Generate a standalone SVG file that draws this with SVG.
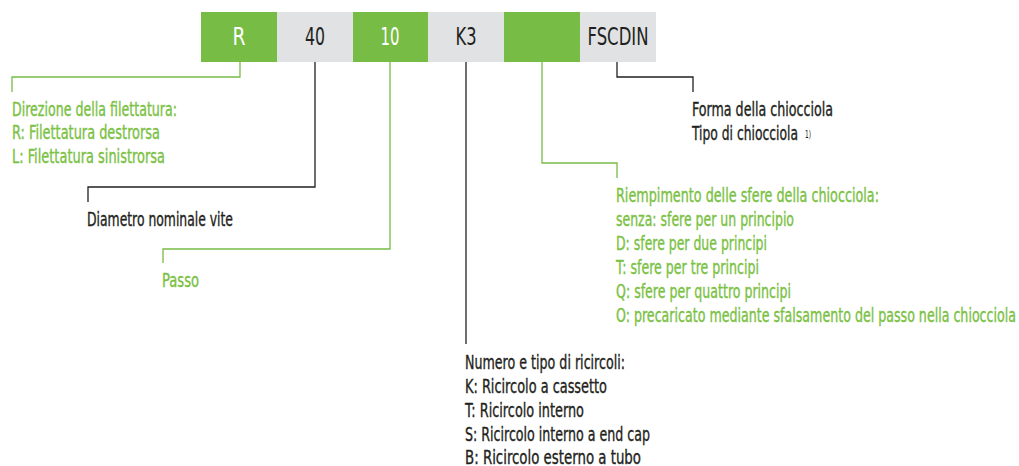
<svg xmlns="http://www.w3.org/2000/svg" width="1019" height="466" viewBox="0 0 1019 466">
<style>
text{font-family:"DejaVu Sans Condensed","Roboto","Liberation Sans",sans-serif;font-stretch:condensed}
.g{fill:#77bc44}.k{fill:#e1e2e3}
.bt{font-size:25px;text-anchor:middle}
.w{fill:#ffffff}.d{fill:#231f20}
.tg{fill:#7ac143;stroke:#7ac143;stroke-width:0.35;font-size:19px}.td{fill:#231f20;stroke:#231f20;stroke-width:0.35;font-size:19px}
.sup{fill:#231f20;font-size:10px}
.lg{fill:none;stroke:#77bc44;stroke-width:1.3}.ld{fill:none;stroke:#231f20;stroke-width:1.3}
</style>
<rect width="1019" height="466" fill="#ffffff"/>
<g id="box-R"><rect class="g" x="201" y="12" width="76" height="50"/><text class="bt w" x="239" y="45" textLength="13" lengthAdjust="spacingAndGlyphs">R</text></g>
<g id="box-40"><rect class="k" x="277" y="12" width="76" height="50"/><text class="bt d" x="315" y="45" textLength="20" lengthAdjust="spacingAndGlyphs">40</text></g>
<g id="box-10"><rect class="g" x="353" y="12" width="75" height="50"/><text class="bt w" x="390" y="45" textLength="19" lengthAdjust="spacingAndGlyphs">10</text></g>
<g id="box-K3"><rect class="k" x="428" y="12" width="76" height="50"/><text class="bt d" x="466" y="45" textLength="21" lengthAdjust="spacingAndGlyphs">K3</text></g>
<g id="box-empty"><rect class="g" x="504" y="12" width="76" height="50"/></g>
<g id="box-FSCDIN"><rect class="k" x="580" y="12" width="76" height="50"/><text class="bt d" x="618" y="45" textLength="61" lengthAdjust="spacingAndGlyphs">FSCDIN</text></g>
<g id="connectors">
<polyline class="lg" points="240,62 240,77 12,77 12,92"/>
<polyline class="ld" points="315,62 315,187 88,187 88,202"/>
<polyline class="lg" points="390,62 390,249 163,249 163,263"/>
<polyline class="ld" points="466,62 466,344"/>
<polyline class="lg" points="542,62 542,163 617,163 617,178"/>
<polyline class="ld" points="617,62 617,77 693,77 693,92"/>
</g>
<g id="label-direzione">
<text class="tg" x="12" y="116" textLength="165" lengthAdjust="spacingAndGlyphs">Direzione della filettatura:</text>
<text class="tg" x="12" y="139" textLength="148" lengthAdjust="spacingAndGlyphs">R: Filettatura destrorsa</text>
<text class="tg" x="12" y="163" textLength="153" lengthAdjust="spacingAndGlyphs">L: Filettatura sinistrorsa</text>
</g>
<g id="label-diametro"><text class="td" x="87" y="226" textLength="146" lengthAdjust="spacingAndGlyphs">Diametro nominale vite</text></g>
<g id="label-passo"><text class="tg" x="162" y="287" textLength="37" lengthAdjust="spacingAndGlyphs">Passo</text></g>
<g id="label-forma">
<text class="td" x="692" y="116" textLength="141" lengthAdjust="spacingAndGlyphs">Forma della chiocciola</text>
<text class="td" x="692" y="140" textLength="106" lengthAdjust="spacingAndGlyphs">Tipo di chiocciola</text>
<text class="sup" x="805" y="138" textLength="6" lengthAdjust="spacingAndGlyphs">1)</text>
</g>
<g id="label-riempimento">
<text class="tg" x="616" y="202" textLength="263" lengthAdjust="spacingAndGlyphs">Riempimento delle sfere della chiocciola:</text>
<text class="tg" x="616" y="226" textLength="178" lengthAdjust="spacingAndGlyphs">senza: sfere per un principio</text>
<text class="tg" x="616" y="250" textLength="151" lengthAdjust="spacingAndGlyphs">D: sfere per due principi</text>
<text class="tg" x="616" y="274" textLength="143" lengthAdjust="spacingAndGlyphs">T: sfere per tre principi</text>
<text class="tg" x="616" y="298" textLength="175" lengthAdjust="spacingAndGlyphs">Q: sfere per quattro principi</text>
<text class="tg" x="616" y="322" textLength="400" lengthAdjust="spacingAndGlyphs">O: precaricato mediante sfalsamento del passo nella chiocciola</text>
</g>
<g id="label-numero">
<text class="td" x="465" y="369" textLength="160" lengthAdjust="spacingAndGlyphs">Numero e tipo di ricircoli:</text>
<text class="td" x="465" y="393" textLength="142" lengthAdjust="spacingAndGlyphs">K: Ricircolo a cassetto</text>
<text class="td" x="465" y="417" textLength="119" lengthAdjust="spacingAndGlyphs">T: Ricircolo interno</text>
<text class="td" x="465" y="441" textLength="185" lengthAdjust="spacingAndGlyphs">S: Ricircolo interno a end cap</text>
<text class="td" x="465" y="464" textLength="176" lengthAdjust="spacingAndGlyphs">B: Ricircolo esterno a tubo</text>
</g>
</svg>
